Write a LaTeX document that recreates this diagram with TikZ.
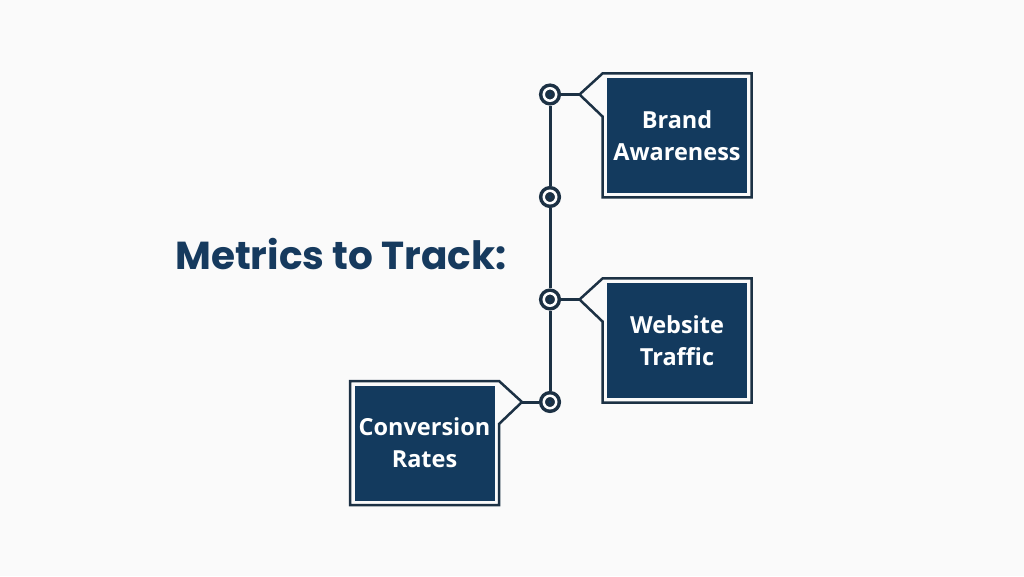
\documentclass[tikz,border=0pt]{standalone}
\usepackage{fontspec}
\setmainfont{Open Sans}
\newfontfamily\titlefont{Poppins}
\definecolor{navy}{HTML}{133A5E}
\definecolor{ink}{HTML}{1C3144}
\definecolor{headc}{HTML}{163A5E}
\definecolor{paper}{HTML}{FAFAFA}
\begin{document}
\begin{tikzpicture}[x=1pt, y=1pt,
    box/.style={rectangle, fill=navy, text=white, align=center, minimum width=140pt,
      minimum height=115pt, inner sep=0pt, outer sep=0pt,
      font=\bfseries\fontsize{23.5}{32}\selectfont},
    dot/.style={circle, draw=ink, double=white, double distance=2.5pt, line width=3.5pt,
      fill=navy, minimum size=12.5pt, inner sep=0pt, outer sep=5pt},
    edge/.style={draw=ink, line width=2.5pt, line join=miter},
    wire/.style={draw=ink, line width=3pt}]
  \fill[paper] (0,0) rectangle (1024,576);
  \useasboundingbox (0,0) rectangle (1024,576);

  \node[font=\titlefont\bfseries\fontsize{39}{46}\selectfont, text=headc, anchor=base west,
    inner sep=0pt] (title) at (175,306) {Metrics to Track:};

  % metric boxes
  \node[box] (brand)   at (677,440.5) {Brand\\Awareness};
  \node[box] (traffic) at (677,235.5) {Website\\Traffic};
  \node[box] (conv)    at (424.5,133) {Conversion\\Rates};

  \draw[edge] ([shift={(-4.5,4.5)}]brand.north west) -- ++(-23,-21) coordinate (bt)
    -- ([shift={(-4.5,-38.5)}]brand.north west) -- ([shift={(-4.5,-4.5)}]brand.south west)
    -- ([shift={(4.5,-4.5)}]brand.south east) -- ([shift={(4.5,4.5)}]brand.north east) -- cycle;
  \draw[edge] ([shift={(-4.5,4.5)}]traffic.north west) -- ++(-23,-21) coordinate (tt)
    -- ([shift={(-4.5,-38.5)}]traffic.north west) -- ([shift={(-4.5,-4.5)}]traffic.south west)
    -- ([shift={(4.5,-4.5)}]traffic.south east) -- ([shift={(4.5,4.5)}]traffic.north east) -- cycle;
  \draw[edge] ([shift={(4.5,4.5)}]conv.north east) -- ++(23,-21) coordinate (ct)
    -- ([shift={(4.5,-38.5)}]conv.north east) -- ([shift={(4.5,-4.5)}]conv.south east)
    -- ([shift={(-4.5,-4.5)}]conv.south west) -- ([shift={(-4.5,4.5)}]conv.north west) -- cycle;

  % timeline
  \node[dot] (d1) at (550,481.5) {};
  \node[dot] (d2) at (550,379) {};
  \node[dot] (d3) at (550,276.5) {};
  \node[dot] (d4) at (550,174) {};

  \draw[wire] (d1) -- (d2); \draw[wire] (d2) -- (d3); \draw[wire] (d3) -- (d4);
  \draw[wire] (d1) -- (bt); \draw[wire] (d3) -- (tt); \draw[wire] (d4) -- (ct);
\end{tikzpicture}
\end{document}
